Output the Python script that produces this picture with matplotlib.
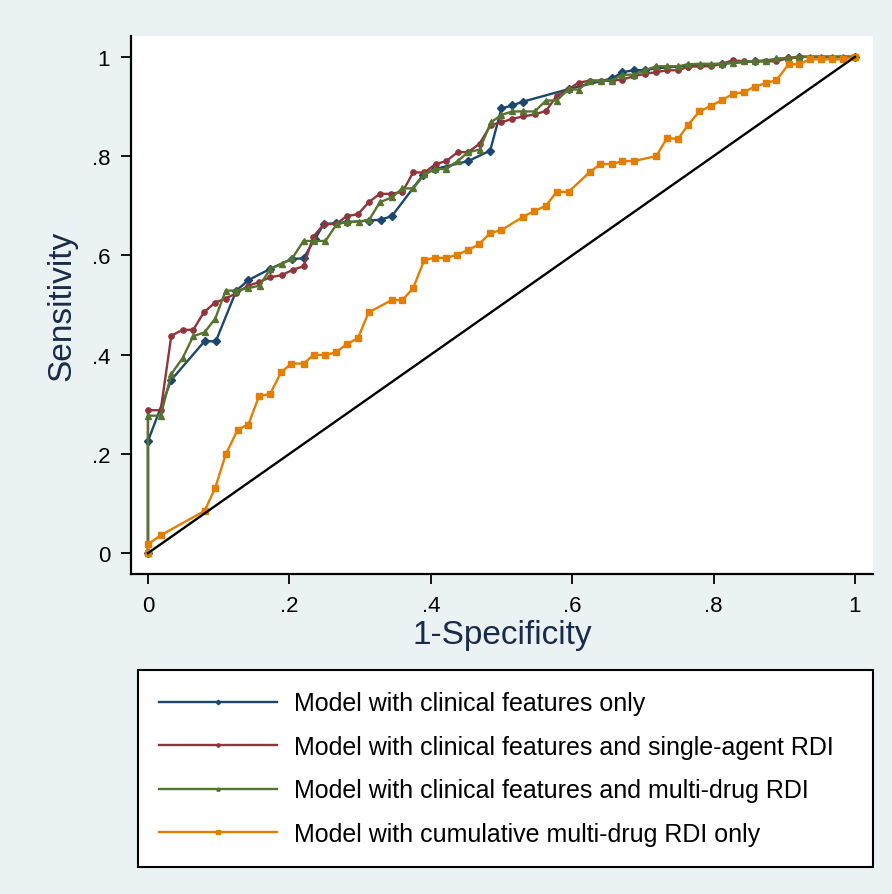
import matplotlib
matplotlib.use("Agg")
import matplotlib.pyplot as plt

plt.rcParams['font.family'] = ['Liberation Sans', 'DejaVu Sans']

# ROC points (1-specificity, sensitivity)
blue_x = [0, 0, 0.033, 0.080, 0.096, 0.125, 0.142, 0.173, 0.204, 0.220, 0.236, 0.249, 0.266, 0.282, 0.313,
          0.329, 0.345, 0.389, 0.406, 0.453, 0.484, 0.500, 0.515, 0.531, 0.595, 0.657, 0.671, 0.687, 0.703,
          0.719, 0.764, 0.812, 0.858, 0.905, 0.921, 1.0]
blue_y = [0, 0.226, 0.349, 0.427, 0.427, 0.529, 0.550, 0.573, 0.593, 0.594, 0.633, 0.663, 0.665, 0.667, 0.670,
          0.672, 0.679, 0.762, 0.774, 0.790, 0.811, 0.896, 0.902, 0.910, 0.935, 0.957, 0.969, 0.973, 0.973,
          0.977, 0.982, 0.986, 0.991, 0.997, 1.0, 1.0]

red_x = [0, 0, 0.018, 0.033, 0.049, 0.064, 0.079, 0.095, 0.110, 0.125, 0.142, 0.157, 0.173, 0.189, 0.205,
         0.220, 0.234, 0.249, 0.266, 0.281, 0.297, 0.313, 0.328, 0.344, 0.360, 0.375, 0.391, 0.407, 0.422,
         0.438, 0.453, 0.469, 0.485, 0.500, 0.515, 0.531, 0.547, 0.563, 0.578, 0.595, 0.609, 0.625, 0.641,
         0.656, 0.671, 0.687, 0.703, 0.719, 0.734, 0.750, 0.764, 0.781, 0.797, 0.812, 0.827, 0.843, 0.858,
         0.874, 0.889, 0.905, 0.921, 1.0]
red_y = [0, 0.288, 0.288, 0.438, 0.450, 0.450, 0.485, 0.505, 0.513, 0.524, 0.539, 0.546, 0.556, 0.560, 0.571,
         0.578, 0.638, 0.663, 0.663, 0.679, 0.683, 0.708, 0.724, 0.724, 0.728, 0.767, 0.767, 0.784, 0.790,
         0.808, 0.808, 0.825, 0.863, 0.868, 0.875, 0.880, 0.884, 0.891, 0.921, 0.935, 0.948, 0.952, 0.952,
         0.952, 0.954, 0.961, 0.966, 0.969, 0.973, 0.973, 0.980, 0.981, 0.981, 0.986, 0.993, 0.991, 0.991,
         0.991, 0.991, 0.997, 1.0, 1.0]

green_x = [0, 0, 0.018, 0.033, 0.049, 0.064, 0.080, 0.095, 0.110, 0.125, 0.142, 0.158, 0.173, 0.189, 0.204,
           0.220, 0.235, 0.251, 0.267, 0.282, 0.299, 0.313, 0.328, 0.345, 0.360, 0.375, 0.391, 0.406, 0.422,
           0.438, 0.453, 0.469, 0.485, 0.500, 0.515, 0.531, 0.547, 0.563, 0.578, 0.595, 0.609, 0.625, 0.641,
           0.656, 0.671, 0.687, 0.703, 0.719, 0.734, 0.750, 0.764, 0.781, 0.797, 0.812, 0.827, 0.843, 0.858,
           0.874, 0.889, 0.905, 0.921, 0.936, 0.952, 0.967, 0.983, 1.0]
green_y = [0, 0.277, 0.277, 0.361, 0.393, 0.437, 0.445, 0.472, 0.529, 0.529, 0.534, 0.539, 0.573, 0.583, 0.594,
           0.629, 0.629, 0.629, 0.663, 0.667, 0.668, 0.672, 0.707, 0.717, 0.735, 0.735, 0.763, 0.774, 0.774,
           0.790, 0.808, 0.813, 0.868, 0.883, 0.890, 0.890, 0.890, 0.912, 0.912, 0.935, 0.934, 0.952, 0.952,
           0.952, 0.964, 0.964, 0.973, 0.981, 0.981, 0.981, 0.985, 0.986, 0.986, 0.986, 0.988, 0.991, 0.991,
           0.991, 0.997, 0.997, 1.0, 1.0, 1.0, 1.0, 1.0, 1.0]

orange_x = [0, 0, 0.018, 0.080, 0.095, 0.110, 0.127, 0.142, 0.157, 0.173, 0.188, 0.203, 0.220, 0.235, 0.251,
            0.266, 0.281, 0.297, 0.312, 0.345, 0.360, 0.375, 0.391, 0.406, 0.422, 0.437, 0.453, 0.468, 0.484,
            0.500, 0.531, 0.546, 0.563, 0.578, 0.595, 0.625, 0.640, 0.656, 0.671, 0.687, 0.719, 0.734, 0.750,
            0.764, 0.780, 0.796, 0.812, 0.827, 0.843, 0.858, 0.874, 0.889, 0.906, 0.921, 0.936, 0.952, 0.967,
            0.983, 1.0]
orange_y = [0, 0.018, 0.036, 0.085, 0.131, 0.199, 0.249, 0.259, 0.316, 0.321, 0.364, 0.382, 0.382, 0.400, 0.399,
            0.405, 0.421, 0.433, 0.485, 0.510, 0.510, 0.534, 0.591, 0.595, 0.595, 0.601, 0.611, 0.622, 0.645,
            0.651, 0.678, 0.689, 0.700, 0.728, 0.728, 0.768, 0.784, 0.784, 0.790, 0.790, 0.800, 0.836, 0.835,
            0.863, 0.890, 0.901, 0.913, 0.925, 0.929, 0.940, 0.947, 0.953, 0.985, 0.985, 0.995, 0.995, 0.995,
            0.995, 1.0]

labels = ["Model with clinical features only",
          "Model with clinical features and single-agent RDI",
          "Model with clinical features and multi-drug RDI",
          "Model with cumulative multi-drug RDI only"]
ticks = [0, 0.2, 0.4, 0.6, 0.8, 1]
tick_labels = ["0", ".2", ".4", ".6", ".8", "1"]

colors = ["#1a476f", "#90353b", "#55752f", "#e37e00"]
markers = ["D", "o", "^", "s"]
bg = "#eaf2f3"

fig = plt.figure(figsize=(8.92, 8.95), dpi=100)
fig.patch.set_facecolor(bg)
ax = fig.add_axes([131/892, 1-575/895, 742/892, 538/895])
ax.set_facecolor("white")

handles = []
for xs, ys, c, m, lab in zip([blue_x, red_x, green_x, orange_x],
                             [blue_y, red_y, green_y, orange_y],
                             colors, markers, labels):
    h, = ax.plot(xs, ys, color=c, lw=1.7, marker=m, markersize=3.8, label=lab)
    handles.append(h)

ax.plot([0, 1], [0, 1], color="black", lw=1.7)

ax.set_xlim(-0.024, 1.0255)
ax.set_ylim(-0.042, 1.042)
ax.set_xticks(ticks)
ax.set_xticklabels(tick_labels)
ax.set_yticks(ticks)
ax.set_yticklabels(tick_labels)
ax.tick_params(direction="out", length=7, width=1.3, labelsize=16, colors="black", pad=8)
for s in ["top", "right"]:
    ax.spines[s].set_visible(False)
for s in ["left", "bottom"]:
    ax.spines[s].set_linewidth(1.6)

ax.set_xlabel("1-Specificity", fontsize=24, color="#1a2a4a", labelpad=2)
ax.set_ylabel("Sensitivity", fontsize=24, color="#1a2a4a", labelpad=10)

leg = fig.legend(handles=handles, labels=labels, loc="upper left",
                 bbox_to_anchor=(138/892, 1-671/895, (873-138)/892, 0.0), mode="expand",
                 fontsize=18, frameon=True, fancybox=False, framealpha=1, edgecolor="black",
                 handlelength=4.7, handletextpad=0.7, labelspacing=0.78, borderpad=0.85,
                 numpoints=1, markerscale=0.6, borderaxespad=0)
leg.get_frame().set_linewidth(1.5)

fig.savefig("out.png", dpi=100, facecolor=bg)
